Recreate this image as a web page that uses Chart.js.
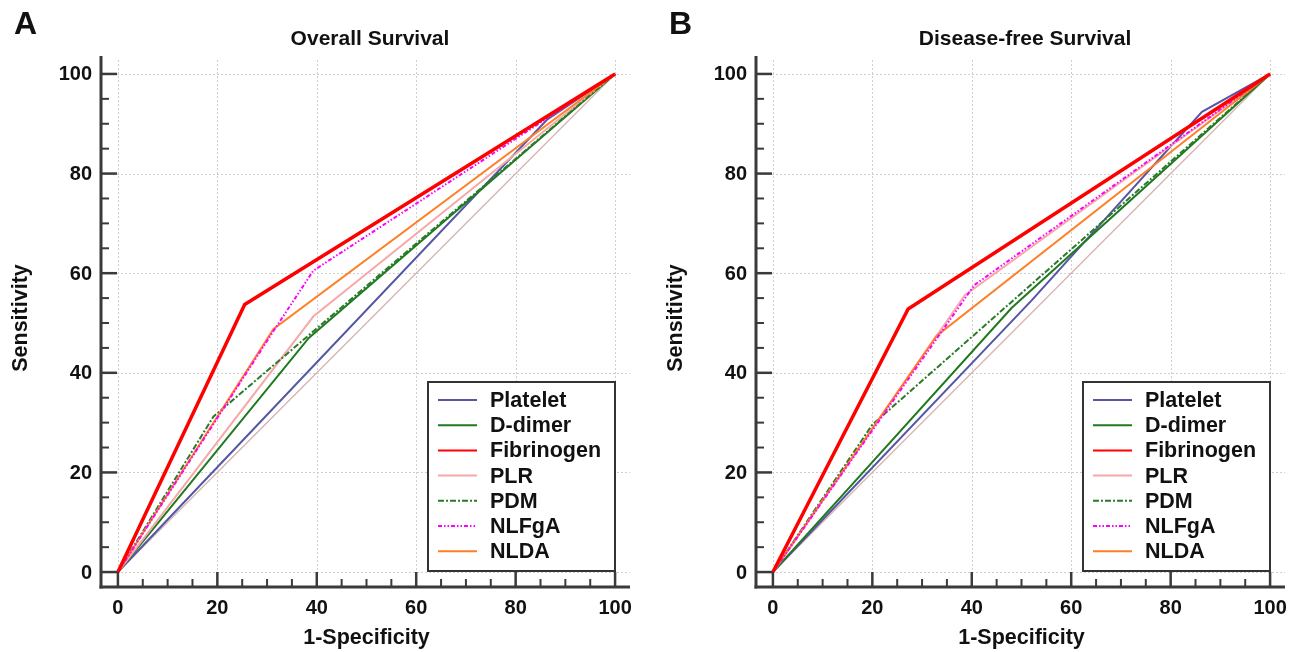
<!DOCTYPE html>
<html>
<head>
<meta charset="utf-8">
<script src="https://cdn.jsdelivr.net/npm/chart.js@4.4.1/dist/chart.umd.min.js"></script>
<style>
  html, body { margin: 0; padding: 0; background: #fff; }
  #wrap { position: relative; width: 1299px; height: 652px; overflow: hidden; }
  .panel { position: absolute; top: 0; height: 652px; }
  #panelA { left: 0; width: 650px; }
  #panelB { left: 655px; width: 644px; }
</style>
</head>
<body>
<div id="wrap">
  <div class="panel" id="panelA"><canvas id="chartA" width="650" height="652"></canvas></div>
  <div class="panel" id="panelB"><canvas id="chartB" width="644" height="652"></canvas></div>
</div>
<script>
// Tick values / labels
const majorTicks = [0, 20, 40, 60, 80, 100];
const minorTicks = [5, 10, 15, 25, 30, 35, 45, 50, 55, 65, 70, 75, 85, 90, 95];

const seriesNames = ['Platelet', 'D-dimer', 'Fibrinogen', 'PLR', 'PDM', 'NLFgA', 'NLDA'];

// Reference diagonal
const diagonal = [[0, 0], [100, 100]];

// Overall survival: [1-specificity, sensitivity]
const osPlatelet   = [[0, 0], [86.3, 90.8], [100, 100]];
const osDdimer     = [[0, 0], [38.4, 47.0], [100, 100]];
const osFibrinogen = [[0, 0], [25.5, 53.7], [100, 100]];
const osPLR        = [[0, 0], [39.3, 51.3], [100, 100]];
const osPDM        = [[0, 0], [19.2, 31.2], [100, 100]];
const osNLFgA      = [[0, 0], [31.3, 48.4], [39.3, 60.5], [100, 100]];
const osNLDA       = [[0, 0], [31.3, 48.8], [100, 100]];

// Disease-free survival
const dfsPlatelet   = [[0, 0], [52.0, 54.5], [86.3, 92.4], [100, 100]];
const dfsDdimer     = [[0, 0], [48.0, 53.0], [100, 100]];
const dfsFibrinogen = [[0, 0], [27.2, 52.8], [100, 100]];
const dfsPLR        = [[0, 0], [38.6, 55.6], [100, 100]];
const dfsPDM        = [[0, 0], [20.0, 29.6], [100, 100]];
const dfsNLFgA      = [[0, 0], [40.5, 57.6], [100, 100]];
const dfsNLDA       = [[0, 0], [32.9, 47.4], [100, 100]];

const FONT = 'Arial, "Liberation Sans", sans-serif';
const AXIS_COLOR = '#3a3a3a';
const GRID_COLOR = '#cfcfcf';

// line style per series (same order as seriesNames)
const STYLES = [
  { color: '#5656a6', width: 2,   dash: [],               order: 6 },
  { color: '#1f7a1f', width: 2,   dash: [],               order: 5 },
  { color: '#ff0000', width: 3.5, dash: [],               order: 0 },
  { color: '#f6a9a9', width: 2,   dash: [],               order: 4 },
  { color: '#2b7a2b', width: 2,   dash: [6, 2, 2, 2],     order: 3 },
  { color: '#ff00ff', width: 2,   dash: [4, 2, 1.5, 2, 1.5, 2], order: 1 },
  { color: '#ff7f27', width: 2,   dash: [],               order: 2 }
];

const toXY = pts => pts.map(p => ({ x: p[0], y: p[1] }));

function buildDatasets(series) {
  const sets = series.map((pts, i) => ({
    label: seriesNames[i],
    data: toXY(pts),
    borderColor: STYLES[i].color,
    borderWidth: STYLES[i].width,
    borderDash: STYLES[i].dash,
    order: STYLES[i].order,
    pointRadius: 0,
    tension: 0,
    fill: false
  }));
  sets.push({
    label: '_diag',
    data: toXY(diagonal),
    borderColor: '#d6b3b3',
    borderWidth: 1.3,
    order: 10,
    pointRadius: 0,
    tension: 0,
    fill: false
  });
  return sets;
}

function hline(ctx, x1, y1, x2, y2) {
  ctx.beginPath();
  ctx.moveTo(x1, y1);
  ctx.lineTo(x2, y2);
  ctx.stroke();
}

// grid, axes, ticks, texts and legend box drawn around the library's scales
const rocFrame = {
  id: 'rocFrame',
  beforeDatasetsDraw(chart) {
    const { ctx, chartArea: a, scales: { x, y } } = chart;
    ctx.save();
    ctx.strokeStyle = GRID_COLOR;
    ctx.lineWidth = 1;
    ctx.setLineDash([2, 2]);
    majorTicks.forEach(v => {
      const px = Math.round(x.getPixelForValue(v)) + 0.5;
      const py = Math.round(y.getPixelForValue(v)) + 0.5;
      hline(ctx, px, a.top, px, a.bottom);
      hline(ctx, a.left, py, a.right, py);
    });
    ctx.restore();
  },
  afterDatasetsDraw(chart, args, opts) {
    const { ctx, chartArea: a, scales: { x, y } } = chart;
    ctx.save();

    // axis lines
    ctx.strokeStyle = AXIS_COLOR;
    ctx.lineWidth = 3;
    hline(ctx, a.left, a.top - 4, a.left, a.bottom + 1.5);
    hline(ctx, a.left - 1.5, a.bottom, a.right, a.bottom);

    // inward ticks
    ctx.lineWidth = 2.5;
    majorTicks.forEach(v => {
      const px = x.getPixelForValue(v), py = y.getPixelForValue(v);
      hline(ctx, px, a.bottom, px, a.bottom - 15);
      hline(ctx, a.left, py, a.left + 16, py);
    });
    ctx.lineWidth = 2;
    minorTicks.forEach(v => {
      const px = x.getPixelForValue(v), py = y.getPixelForValue(v);
      hline(ctx, px, a.bottom, px, a.bottom - 8);
      hline(ctx, a.left, py, a.left + 8, py);
    });

    // tick labels
    ctx.fillStyle = '#111';
    ctx.font = 'bold 20px ' + FONT;
    ctx.textBaseline = 'middle';
    ctx.textAlign = 'right';
    majorTicks.forEach(v => ctx.fillText(String(v), a.left - 9, y.getPixelForValue(v) + 1));
    ctx.textAlign = 'center';
    majorTicks.forEach(v => ctx.fillText(String(v), x.getPixelForValue(v), a.bottom + 21));

    // axis titles
    ctx.font = 'bold 21.5px ' + FONT;
    ctx.fillText('1-Specificity', (a.left + a.right) / 2 + 1, a.bottom + 51);
    ctx.save();
    ctx.translate(21, 318);
    ctx.rotate(-Math.PI / 2);
    ctx.fillText('Sensitivity', 0, 0);
    ctx.restore();

    // title + panel letter
    ctx.font = 'bold 21px ' + FONT;
    ctx.fillText(opts.title, 370, 39);
    ctx.font = 'bold 32px ' + FONT;
    ctx.textAlign = 'left';
    ctx.fillText(opts.letter, 14, 25);

    // legend box
    const box = { left: 428, top: 382, right: 615, bottom: 571 };
    ctx.fillStyle = '#fff';
    ctx.fillRect(box.left, box.top, box.right - box.left, box.bottom - box.top);
    ctx.strokeStyle = '#333';
    ctx.lineWidth = 2;
    ctx.strokeRect(box.left, box.top, box.right - box.left, box.bottom - box.top);

    ctx.font = 'bold 21.5px ' + FONT;
    ctx.textAlign = 'left';
    chart.data.datasets.filter(d => d.label[0] !== '_').forEach((d, i) => {
      const ly = box.top + 18 + i * 25.2;
      ctx.save();
      ctx.strokeStyle = d.borderColor;
      ctx.lineWidth = Math.min(d.borderWidth, 2);
      ctx.setLineDash(d.borderDash || []);
      hline(ctx, 438, ly, 477, ly);
      ctx.restore();
      ctx.fillStyle = '#111';
      ctx.fillText(d.label, 490, ly + 1);
    });

    ctx.restore();
  }
};

function makeChart(id, series, title, letter) {
  return new Chart(document.getElementById(id), {
    type: 'line',
    data: { datasets: buildDatasets(series) },
    options: {
      responsive: false,
      animation: false,
      devicePixelRatio: 1,
      layout: { padding: { left: 101, right: document.getElementById(id).width - 630, top: 60, bottom: 65 } },
      scales: {
        x: { type: 'linear', min: -3.4, max: 103, display: false },
        y: { type: 'linear', min: -3.0, max: 102.8, display: false }
      },
      plugins: {
        legend: { display: false },
        tooltip: { enabled: false },
        rocFrame: { title, letter }
      }
    },
    plugins: [rocFrame]
  });
}

makeChart('chartA', [osPlatelet, osDdimer, osFibrinogen, osPLR, osPDM, osNLFgA, osNLDA], 'Overall Survival', 'A');
makeChart('chartB', [dfsPlatelet, dfsDdimer, dfsFibrinogen, dfsPLR, dfsPDM, dfsNLFgA, dfsNLDA], 'Disease-free Survival', 'B');
</script>
</body>
</html>
